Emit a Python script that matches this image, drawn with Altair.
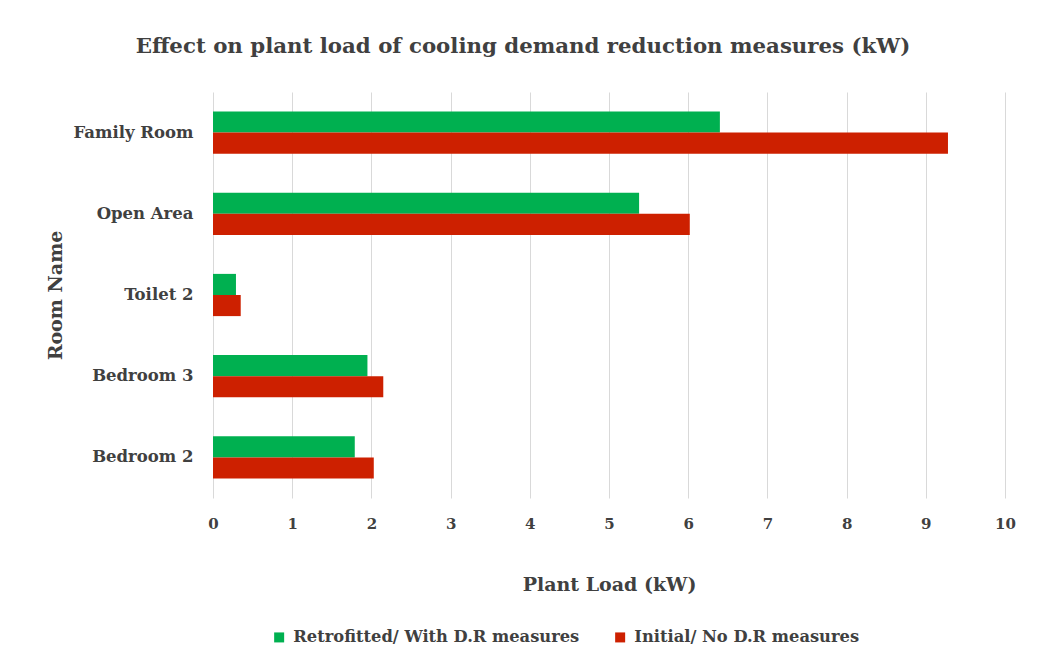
import altair as alt
import pandas as pd

rooms = ["Family Room", "Open Area", "Toilet 2", "Bedroom 3", "Bedroom 2"]
series = ["Retrofitted/ With D.R measures", "Initial/ No D.R measures"]
retrofitted = [6.40, 5.38, 0.29, 1.95, 1.79]
initial = [9.28, 6.02, 0.35, 2.15, 2.03]
colors = ["#00B050", "#CD2000"]
x_ticks = [0, 1, 2, 3, 4, 5, 6, 7, 8, 9, 10]

rows = []
for r, a, b in zip(rooms, retrofitted, initial):
    rows.append({"Room": r, "Series": series[0], "Load": a})
    rows.append({"Room": r, "Series": series[1], "Load": b})
df = pd.DataFrame(rows)

FONT = "DejaVu Serif"
TXT = "#404040"

chart = alt.Chart(df).mark_bar().encode(
    x=alt.X("Load:Q",
            scale=alt.Scale(domain=[0, 10], nice=False),
            axis=alt.Axis(values=x_ticks, title="Plant Load (kW)", grid=True,
                          gridColor="#d9d9d9", domain=False, ticks=False,
                          labelFlush=False,
                          labelPadding=18, labelFontSize=15, labelFont=FONT,
                          labelFontWeight="bold", labelColor=TXT,
                          titleFont=FONT, titleFontSize=19, titleFontWeight="bold",
                          titleColor=TXT, titleY=86, titleBaseline="middle")),
    y=alt.Y("Room:N", sort=rooms,
            scale=alt.Scale(paddingInner=0.48, paddingOuter=0.24),
            axis=alt.Axis(title="Room Name", domain=False, ticks=False, grid=False,
                          labelPadding=20, labelFontSize=16.5, labelFont=FONT,
                          labelFontWeight="bold", labelColor=TXT,
                          titleFont=FONT, titleFontSize=19, titleFontWeight="bold",
                          titleColor=TXT, titleX=-158, titleY=203,
                          titleBaseline="middle", titleAngle=-90)),
    yOffset=alt.YOffset("Series:N", sort=series),
    color=alt.Color("Series:N",
                    scale=alt.Scale(domain=series, range=colors),
                    legend=alt.Legend(title=None, orient="none", direction="horizontal",
                                      legendX=58, legendY=537, symbolType="square",
                                      symbolSize=100, symbolStrokeWidth=0,
                                      labelFont=FONT, labelFontSize=16.3,
                                      labelFontWeight="bold", labelColor=TXT,
                                      columnPadding=32, labelOffset=6, padding=0,
                                      labelLimit=400)),
).properties(
    width=792,
    height=406,
    title=alt.TitleParams("Effect on plant load of cooling demand reduction measures (kW)",
                          font=FONT, fontSize=21.3, fontWeight="bold", color=TXT,
                          anchor="middle", dx=-86, offset=35),
    autosize=alt.AutoSizeParams(type="none"),
    padding={"left": 205, "top": 84, "right": 33, "bottom": 160},
).configure_view(strokeWidth=0)

chart.save("out.html", embed_options={"renderer": "svg", "actions": False})
